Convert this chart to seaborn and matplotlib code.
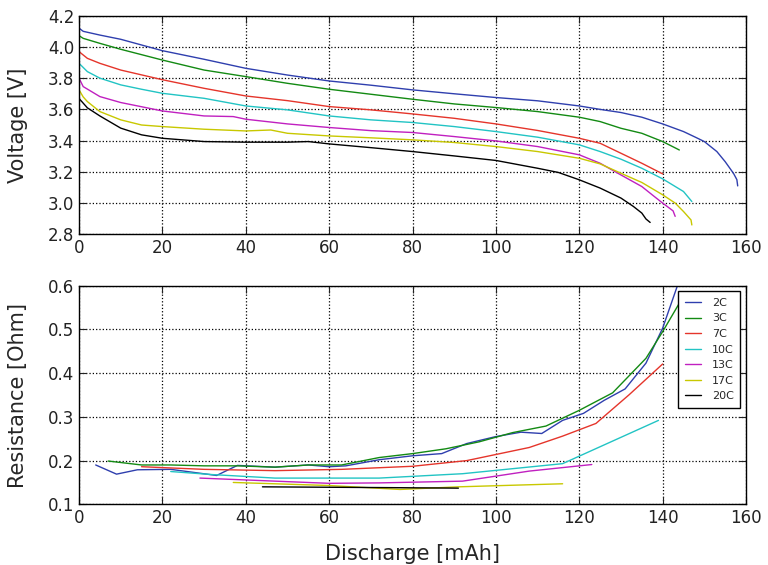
import numpy as np
import pandas as pd
import matplotlib
matplotlib.use("Agg")
import matplotlib.pyplot as plt
import seaborn as sns

# discharge curves: capacity [mAh] / voltage [V]
rates = ['2C', '3C', '7C', '10C', '13C', '17C', '20C']

cap_2c = [0, 1, 5, 10, 20, 30, 40, 50, 60, 70, 80, 90, 100, 110, 120, 125, 130, 135, 140, 145, 148, 150, 153, 155, 157, 157.8, 158]
volt_2c = [4.12, 4.10, 4.076, 4.049, 3.976, 3.921, 3.863, 3.82, 3.782, 3.755, 3.725, 3.70, 3.676, 3.655, 3.622, 3.60, 3.58, 3.55, 3.507, 3.458, 3.42, 3.394, 3.33, 3.265, 3.19, 3.15, 3.11]

cap_3c = [0, 1, 5, 10, 20, 30, 40, 50, 60, 70, 80, 90, 100, 110, 120, 125, 130, 135, 140, 144]
volt_3c = [4.072, 4.055, 4.023, 3.985, 3.916, 3.852, 3.81, 3.767, 3.729, 3.697, 3.665, 3.635, 3.612, 3.586, 3.55, 3.522, 3.479, 3.447, 3.394, 3.34]

cap_7c = [0, 2, 5, 10, 20, 30, 40, 50, 60, 70, 80, 90, 100, 110, 120, 125, 130, 135, 140]
volt_7c = [3.97, 3.927, 3.895, 3.852, 3.79, 3.735, 3.686, 3.656, 3.618, 3.597, 3.571, 3.543, 3.507, 3.465, 3.415, 3.383, 3.319, 3.255, 3.187]

cap_10c = [0, 2, 5, 10, 15, 20, 30, 40, 50, 60, 70, 80, 90, 100, 110, 120, 125, 130, 135, 140, 145, 147]
volt_10c = [3.895, 3.842, 3.80, 3.757, 3.729, 3.703, 3.671, 3.622, 3.597, 3.558, 3.533, 3.516, 3.49, 3.458, 3.422, 3.373, 3.33, 3.281, 3.223, 3.155, 3.074, 3.01]

cap_13c = [0, 1, 5, 10, 20, 30, 37, 40, 50, 60, 70, 80, 90, 100, 110, 120, 125, 130, 135, 138, 140, 142.5, 143]
volt_13c = [3.80, 3.746, 3.682, 3.644, 3.59, 3.558, 3.554, 3.537, 3.507, 3.484, 3.464, 3.452, 3.426, 3.398, 3.362, 3.309, 3.255, 3.18, 3.106, 3.042, 3.0, 2.95, 2.915]

cap_17c = [0, 1, 2, 5, 10, 15, 20, 30, 40, 46, 50, 60, 70, 80, 90, 100, 110, 120, 125, 130, 135, 140, 143, 145, 146.8, 147]
volt_17c = [3.725, 3.68, 3.65, 3.586, 3.533, 3.50, 3.49, 3.473, 3.462, 3.468, 3.447, 3.43, 3.418, 3.405, 3.388, 3.362, 3.33, 3.287, 3.251, 3.191, 3.132, 3.053, 3.0, 2.946, 2.892, 2.86]

cap_20c = [0, 2, 5, 10, 15, 20, 30, 40, 50, 55, 60, 70, 80, 90, 100, 110, 115, 120, 125, 130, 133, 135, 136, 137]
volt_20c = [3.67, 3.61, 3.558, 3.48, 3.437, 3.415, 3.394, 3.39, 3.39, 3.394, 3.379, 3.355, 3.33, 3.302, 3.273, 3.223, 3.196, 3.149, 3.096, 3.032, 2.978, 2.936, 2.898, 2.876]

# internal resistance [Ohm] vs capacity [mAh]
rcap_2c = [4, 9, 14, 22, 33, 38, 47, 55, 60, 64, 72, 80, 87, 93, 100, 106, 111, 116, 121, 126, 131, 136, 140, 145]
res_2c = [0.19, 0.169, 0.179, 0.18, 0.166, 0.189, 0.185, 0.19, 0.186, 0.188, 0.202, 0.211, 0.216, 0.239, 0.255, 0.265, 0.262, 0.292, 0.308, 0.338, 0.364, 0.423, 0.503, 0.64]

rcap_3c = [7, 15, 22, 30, 38, 47, 55, 63, 72, 80, 88, 96, 104, 112, 120, 128, 136, 140, 144]
res_3c = [0.199, 0.19, 0.19, 0.188, 0.188, 0.185, 0.19, 0.19, 0.207, 0.216, 0.227, 0.243, 0.264, 0.279, 0.315, 0.355, 0.434, 0.495, 0.56]

rcap_7c = [15, 30, 47, 63, 80, 93, 108, 116, 124, 132, 140]
res_7c = [0.186, 0.18, 0.177, 0.18, 0.187, 0.2, 0.23, 0.256, 0.285, 0.351, 0.421]

rcap_10c = [22, 32, 47, 60, 72, 92, 116, 139]
res_10c = [0.175, 0.168, 0.16, 0.16, 0.16, 0.17, 0.193, 0.292]

rcap_13c = [29, 47, 60, 72, 92, 108, 123]
res_13c = [0.16, 0.153, 0.148, 0.149, 0.153, 0.176, 0.191]

rcap_17c = [37, 60, 77, 91, 116]
res_17c = [0.15, 0.143, 0.134, 0.14, 0.147]

rcap_20c = [44, 77, 91]
res_20c = [0.14, 0.138, 0.137]

colors = ['#2f3fae', '#138a13', '#e5352b', '#22c4c4', '#c020c0', '#c8c800', '#000000']

volt_df = pd.concat([
    pd.DataFrame({'cap': c, 'v': v, 'rate': r})
    for c, v, r in zip([cap_2c, cap_3c, cap_7c, cap_10c, cap_13c, cap_17c, cap_20c],
                       [volt_2c, volt_3c, volt_7c, volt_10c, volt_13c, volt_17c, volt_20c], rates)
], ignore_index=True)
res_df = pd.concat([
    pd.DataFrame({'cap': c, 'r': v, 'rate': r})
    for c, v, r in zip([rcap_2c, rcap_3c, rcap_7c, rcap_10c, rcap_13c, rcap_17c, rcap_20c],
                       [res_2c, res_3c, res_7c, res_10c, res_13c, res_17c, res_20c], rates)
], ignore_index=True)

sns.set_style('ticks')
plt.rcParams.update({
    'font.family': ['DejaVu Sans'],
    'xtick.direction': 'in', 'ytick.direction': 'in',
    'xtick.top': True, 'ytick.right': True,
    'xtick.major.size': 5, 'ytick.major.size': 5,
    'axes.edgecolor': 'black', 'axes.linewidth': 1.0,
    'xtick.labelsize': 12, 'ytick.labelsize': 12,
})

fig = plt.figure(figsize=(7.68, 5.65), dpi=100)
ax1 = fig.add_axes([0.1029, 0.5853, 0.8685, 0.3869])
ax2 = fig.add_axes([0.1029, 0.1074, 0.8685, 0.3869])

pal = dict(zip(rates, colors))
sns.lineplot(data=volt_df, x='cap', y='v', hue='rate', palette=pal, hue_order=rates,
             ax=ax1, legend=False, linewidth=1.0, estimator=None, sort=False)
sns.lineplot(data=res_df, x='cap', y='r', hue='rate', palette=pal, hue_order=rates,
             ax=ax2, linewidth=1.0, estimator=None, sort=False)

ax1.set_xlim(0, 160)
ax1.set_ylim(2.8, 4.2)
ax1.set_yticks(np.arange(2.8, 4.21, 0.2))
ax1.set_xticks(range(0, 161, 20))
ax1.set_xlabel('')
ax1.set_ylabel('Voltage [V]', fontsize=15, labelpad=14)

ax2.set_xlim(0, 160)
ax2.set_ylim(0.1, 0.6)
ax2.set_xticks(range(0, 161, 20))
ax2.set_xlabel('Discharge [mAh]', fontsize=15, labelpad=12)
ax2.set_ylabel('Resistance [Ohm]', fontsize=15, labelpad=14)

for ax in (ax1, ax2):
    ax.grid(True, linestyle=':', color='black', linewidth=0.9)
    ax.tick_params(colors='#222222')

leg = ax2.legend(loc='upper right', fontsize=8, fancybox=False, edgecolor='black',
                 framealpha=1, handlelength=1.45, handletextpad=1.0,
                 labelspacing=0.5, borderpad=0.6)
leg.get_frame().set_linewidth(1.0)

fig.savefig('out.png', dpi=100)
